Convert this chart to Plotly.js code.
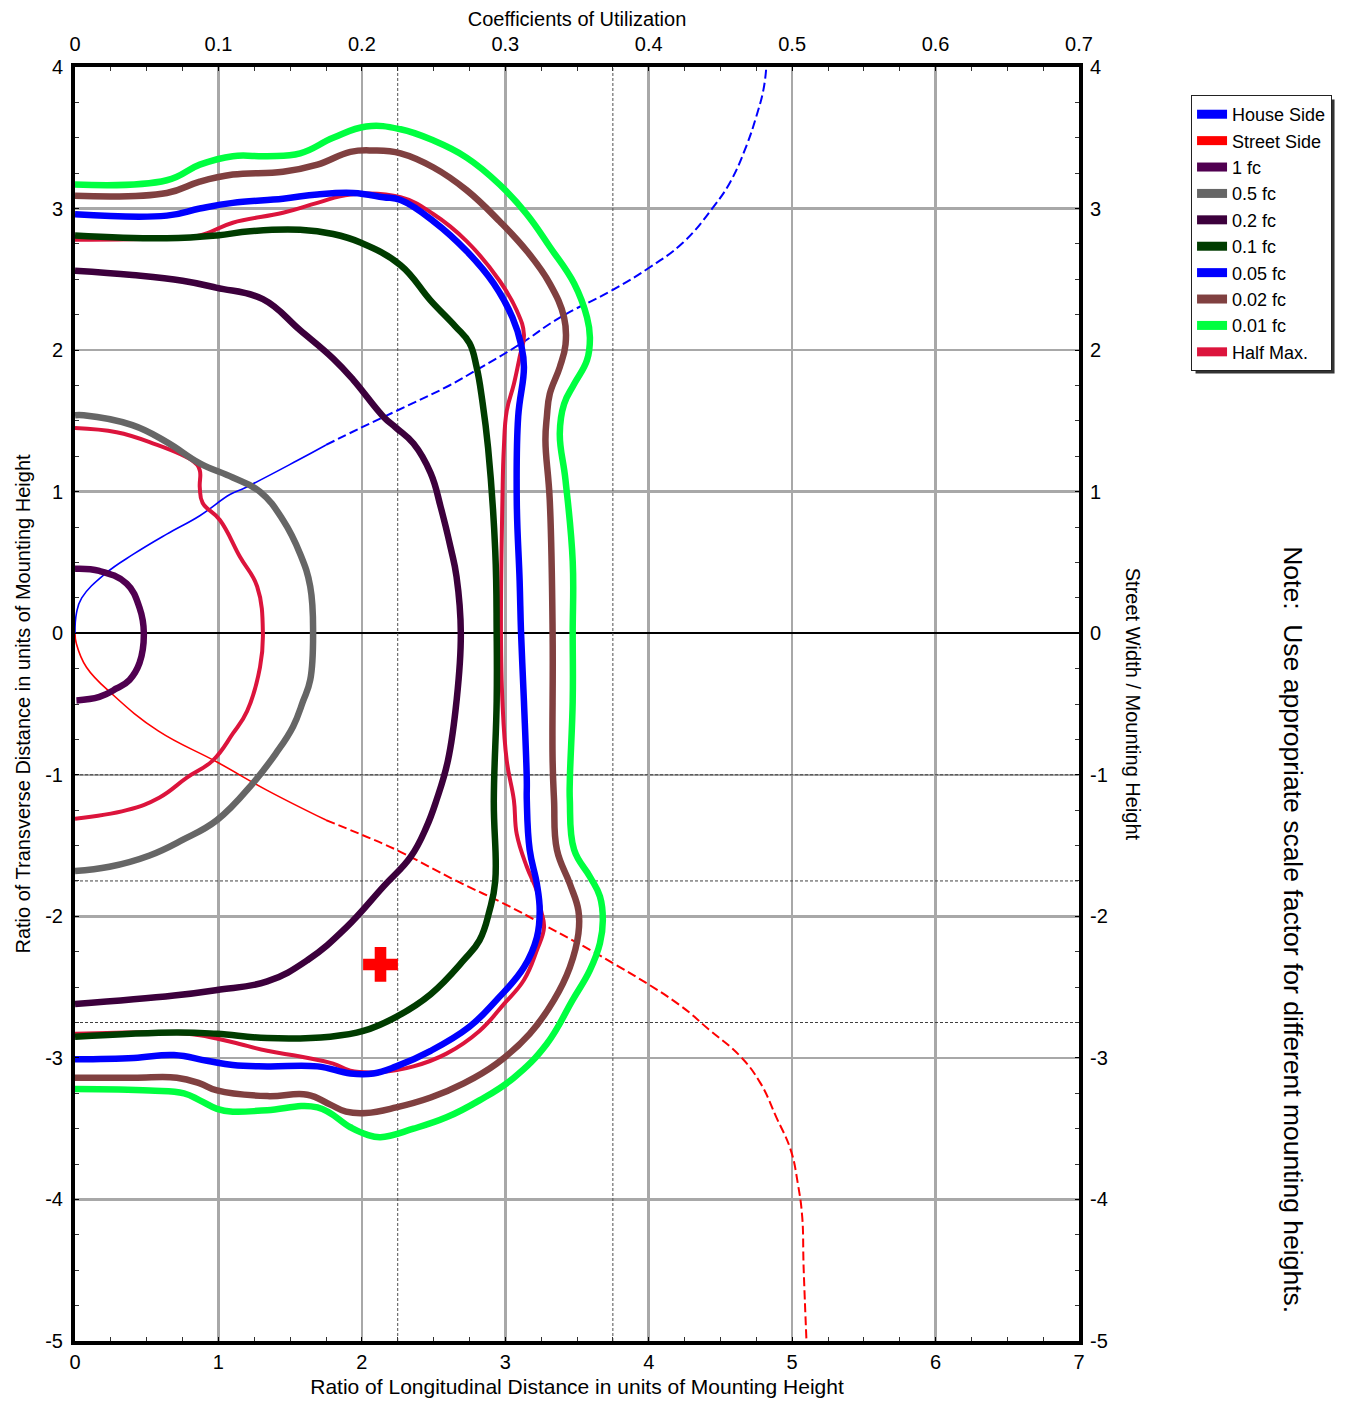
<!DOCTYPE html>
<html>
<head>
<meta charset="utf-8">
<script src="https://cdn.plot.ly/plotly-3.0.1.min.js"></script>
<style>
  html, body { margin: 0; padding: 0; background: #fff; }
  #chart { width: 1360px; height: 1401px; }
</style>
</head>
<body>
<div id="chart"></div>
<script>
// ---------- DATA (ratio units of mounting height) ----------
// Utilization curves
const houseSolidX  = [0, 0.01, 0.047, 0.21, 0.41, 0.64, 0.87, 1.08, 1.19, 1.55, 1.75];
const houseSolidY  = [0, 0.14, 0.25, 0.42, 0.56, 0.70, 0.83, 0.98, 1.03, 1.22, 1.33];
const houseDashX   = [1.75, 1.99, 2.24, 2.61, 2.80, 3.10, 3.38, 3.74, 4.00, 4.24, 4.45, 4.57, 4.68, 4.75, 4.80, 4.82];
const houseDashY   = [1.33, 1.45, 1.57, 1.75, 1.86, 2.04, 2.23, 2.42, 2.58, 2.76, 3.01, 3.19, 3.44, 3.65, 3.84, 4.00];
const streetSolidX = [0, 0.01, 0.08, 0.27, 0.58, 0.99, 1.34, 1.75];
const streetSolidY = [0, -0.075, -0.24, -0.44, -0.69, -0.91, -1.11, -1.32];
const streetDashX  = [1.75, 1.99, 2.24, 2.66, 2.99, 3.27, 3.75, 4.22, 4.42, 4.64, 4.78, 4.89, 4.99, 5.04, 5.07, 5.08, 5.10];
const streetDashY  = [-1.32, -1.42, -1.53, -1.75, -1.91, -2.06, -2.33, -2.63, -2.80, -2.99, -3.18, -3.42, -3.65, -3.89, -4.12, -4.48, -5.00];

// Iso-footcandle contours
const fc1X = [0, 0.17, 0.36, 0.45, 0.48, 0.45, 0.38, 0.29, 0.17, 0.01];
const fc1Y = [0.455, 0.44, 0.35, 0.18, 0, -0.21, -0.33, -0.39, -0.45, -0.475];

const fc05X = [0, 0.06, 0.40, 0.64, 0.87, 1.10, 1.29, 1.45, 1.57, 1.64, 1.66, 1.64, 1.59, 1.52, 1.40, 1.24, 0.99, 0.75, 0.52, 0.24, 0];
const fc05Y = [1.54, 1.54, 1.47, 1.35, 1.20, 1.10, 1.00, 0.80, 0.56, 0.33, 0, -0.33, -0.48, -0.66, -0.85, -1.06, -1.32, -1.46, -1.57, -1.65, -1.68];

const fc02X = [0, 0.40, 0.75, 0.99, 1.31, 1.57, 1.80, 1.94, 2.15, 2.24, 2.36, 2.48, 2.55, 2.62, 2.66, 2.69, 2.66, 2.60, 2.52, 2.45, 2.34, 2.15, 1.89, 1.62, 1.34, 0.99, 0.69, 0];
const fc02Y = [2.56, 2.53, 2.49, 2.44, 2.36, 2.14, 1.94, 1.79, 1.53, 1.45, 1.34, 1.13, 0.89, 0.60, 0.40, 0, -0.48, -0.90, -1.18, -1.37, -1.58, -1.79, -2.08, -2.31, -2.46, -2.52, -2.56, -2.62];

const fc01X = [0, 0.64, 0.99, 1.22, 1.57, 1.80, 1.99, 2.27, 2.48, 2.65, 2.75, 2.80, 2.84, 2.88, 2.93, 2.94, 2.94, 2.92, 2.93, 2.89, 2.82, 2.71, 2.48, 2.24, 2.01, 1.78, 1.34, 0.99, 0.71, 0];
const fc01Y = [2.81, 2.79, 2.81, 2.84, 2.85, 2.82, 2.76, 2.60, 2.35, 2.17, 2.05, 1.88, 1.64, 1.31, 0.58, 0, -0.48, -1.18, -1.75, -1.96, -2.17, -2.31, -2.55, -2.71, -2.81, -2.85, -2.86, -2.83, -2.82, -2.85];

const fc005X = [0, 0.64, 0.87, 1.10, 1.45, 1.69, 1.94, 2.15, 2.27, 2.50, 2.73, 2.92, 3.05, 3.11, 3.13, 3.09, 3.08, 3.10, 3.11, 3.13, 3.15, 3.15, 3.17, 3.22, 3.24, 3.22, 3.13, 2.94, 2.75, 2.48, 2.24, 2.08, 1.92, 1.69, 1.34, 1.10, 0.92, 0.69, 0.41, 0];
const fc005Y = [2.96, 2.95, 3.00, 3.04, 3.07, 3.10, 3.11, 3.08, 3.06, 2.91, 2.70, 2.47, 2.23, 2.04, 1.88, 1.53, 0.94, 0.37, 0, -0.48, -1.04, -1.18, -1.53, -1.77, -1.96, -2.15, -2.36, -2.59, -2.78, -2.95, -3.06, -3.11, -3.11, -3.06, -3.06, -3.05, -3.02, -2.98, -3.00, -3.01];

const fc002X = [0, 0.64, 0.87, 1.10, 1.45, 1.69, 1.92, 2.08, 2.27, 2.50, 2.73, 2.96, 3.15, 3.31, 3.41, 3.42, 3.38, 3.31, 3.29, 3.28, 3.31, 3.33, 3.33, 3.34, 3.36, 3.45, 3.51, 3.51, 3.45, 3.34, 3.17, 2.94, 2.71, 2.48, 2.24, 2.03, 1.89, 1.78, 1.62, 1.34, 0.99, 0.87, 0.71, 0.41, 0];
const fc002Y = [3.09, 3.11, 3.19, 3.24, 3.26, 3.31, 3.40, 3.41, 3.39, 3.29, 3.13, 2.91, 2.70, 2.47, 2.23, 2.04, 1.88, 1.69, 1.53, 1.36, 0.94, 0, -0.90, -1.18, -1.53, -1.77, -1.96, -2.12, -2.36, -2.59, -2.83, -3.04, -3.18, -3.28, -3.35, -3.39, -3.38, -3.33, -3.26, -3.27, -3.23, -3.18, -3.14, -3.14, -3.14];

const fc001X = [0, 0.64, 0.87, 1.10, 1.34, 1.57, 1.80, 2.03, 2.27, 2.50, 2.73, 2.96, 3.15, 3.31, 3.48, 3.57, 3.59, 3.57, 3.48, 3.41, 3.38, 3.42, 3.47, 3.47, 3.47, 3.45, 3.45, 3.48, 3.59, 3.66, 3.68, 3.66, 3.59, 3.47, 3.29, 3.06, 2.82, 2.59, 2.36, 2.13, 2.03, 1.92, 1.69, 1.34, 1.10, 0.99, 0.87, 0.76, 0.52, 0];
const fc001Y = [3.17, 3.20, 3.31, 3.37, 3.37, 3.39, 3.50, 3.58, 3.56, 3.48, 3.36, 3.17, 2.96, 2.73, 2.47, 2.23, 2.09, 1.93, 1.76, 1.62, 1.41, 1.08, 0.51, 0, -0.48, -1.04, -1.18, -1.53, -1.72, -1.86, -2.03, -2.19, -2.38, -2.59, -2.90, -3.14, -3.30, -3.42, -3.50, -3.56, -3.54, -3.49, -3.35, -3.37, -3.38, -3.36, -3.30, -3.25, -3.23, -3.22];

const halfMaxInnerX = [0, 0.29, 0.52, 0.83, 0.87, 0.87, 0.89, 1.01, 1.15, 1.27, 1.31, 1.29, 1.20, 1.10, 0.96, 0.78, 0.59, 0.36, 0];
const halfMaxInnerY = [1.45, 1.42, 1.35, 1.21, 1.15, 1.03, 0.92, 0.80, 0.54, 0.33, 0, -0.24, -0.55, -0.71, -0.90, -1.02, -1.16, -1.25, -1.31];

const halfMaxOuterX = [0, 0.64, 0.87, 1.10, 1.45, 1.69, 1.92, 2.27, 2.50, 2.73, 2.96, 3.08, 3.13, 3.10, 3.06, 3.01, 2.99, 2.98, 2.97, 2.98, 3.01, 3.06, 3.08, 3.15, 3.22, 3.25, 3.27, 3.22, 3.13, 2.99, 2.82, 2.59, 2.36, 2.13, 1.92, 1.80, 1.57, 1.34, 1.10, 0.87, 0.64, 0];
const halfMaxOuterY = [2.78, 2.79, 2.81, 2.90, 2.97, 3.04, 3.10, 3.08, 2.96, 2.77, 2.49, 2.28, 2.11, 1.95, 1.76, 1.57, 1.31, 0.94, 0, -0.48, -0.90, -1.18, -1.42, -1.65, -1.82, -1.96, -2.08, -2.24, -2.45, -2.62, -2.81, -2.97, -3.06, -3.10, -3.09, -3.04, -2.99, -2.95, -2.89, -2.84, -2.82, -2.83];

// Maximum candela point
const maxCdX = [2.13];
const maxCdY = [-2.34];

// Street-width reference lines
const refLinesX = [2.25, 3.75];
const refLinesY = [-1, -1.75, -2.75];

// Axis ranges and tick labels
const longRange = [0, 7];
const transRange = [-5, 4];
const cuRange = [0, 0.7];
const longTicks = [0, 1, 2, 3, 4, 5, 6, 7];
const transTicks = [-5, -4, -3, -2, -1, 0, 1, 2, 3, 4];
const transTickText = ['-5', '-4', '-3', '-2', '-1', '0', '1', '2', '3', '4'];
const cuTicks = [0, 0.1, 0.2, 0.3, 0.4, 0.5, 0.6, 0.7];
const cuTickText = ['0', '0.1', '0.2', '0.3', '0.4', '0.5', '0.6', '0.7'];

// Legend entries
const legendNames  = ['House Side', 'Street Side', '1 fc', '0.5 fc', '0.2 fc', '0.1 fc', '0.05 fc', '0.02 fc', '0.01 fc', 'Half Max.'];
const legendColors = ['#0000FF', '#FF0000', '#500050', '#666666', '#3C003C', '#003C00', '#0000FF', '#804040', '#00FF40', '#DC143C'];

// ---------- STYLE ----------
const FONT = 'Liberation Sans, Arial, Helvetica, sans-serif';
const C = {};
legendNames.forEach((n, i) => C[n] = legendColors[i]);
const SPL = {shape: 'spline', smoothing: 1.2};

function line(x, y, color, width, dash, smooth) {
  const ln = {color: color, width: width, dash: dash || 'solid'};
  if (smooth !== false) Object.assign(ln, SPL);
  return {x: x, y: y, type: 'scatter', mode: 'lines', showlegend: false, hoverinfo: 'skip', line: ln};
}

const traces = [];
// street-width reference lines (dashed, just above the grid)
refLinesX.forEach(v => traces.push(line([v, v], transRange, '#505050', 1, '3px,2px', false)));
refLinesY.forEach(v => traces.push(line(longRange, [v, v], '#404040', 1, '3px,2px', false)));
// utilization curves
traces.push(line(houseSolidX, houseSolidY, C['House Side'], 1.6));
traces.push(line(houseDashX, houseDashY, C['House Side'], 2, '9px,4px'));
traces.push(line(streetSolidX, streetSolidY, C['Street Side'], 1.6));
traces.push(line(streetDashX, streetDashY, C['Street Side'], 2, '9px,4px'));
// half max
traces.push(line(halfMaxInnerX, halfMaxInnerY, C['Half Max.'], 4));
traces.push(line(halfMaxOuterX, halfMaxOuterY, C['Half Max.'], 4));
// contours
traces.push(line(fc1X, fc1Y, C['1 fc'], 6.5));
traces.push(line(fc05X, fc05Y, C['0.5 fc'], 6.5));
traces.push(line(fc02X, fc02Y, C['0.2 fc'], 6.5));
traces.push(line(fc01X, fc01Y, C['0.1 fc'], 6.5));
traces.push(line(fc005X, fc005Y, C['0.05 fc'], 6.5));
traces.push(line(fc002X, fc002Y, C['0.02 fc'], 6.5));
traces.push(line(fc001X, fc001Y, C['0.01 fc'], 6.5));
// max candela marker
traces.push({x: maxCdX, y: maxCdY, type: 'scatter', mode: 'markers', showlegend: false, hoverinfo: 'skip',
             marker: {symbol: 'cross', size: 29, color: '#FF0000', line: {width: 0}}});
// legend proxies
legendNames.forEach((n, i) => {
  traces.push({x: [null], y: [null], type: 'scatter', mode: 'lines', name: n, showlegend: true,
               line: {color: legendColors[i], width: 9}});
});
// secondary axes carrier
traces.push({x: [null], y: [null], xaxis: 'x2', yaxis: 'y2', type: 'scatter', mode: 'lines', showlegend: false, hoverinfo: 'skip'});

const tickFont = {family: FONT, size: 20, color: '#000'};
const titleFont = {family: FONT, size: 20, color: '#000'};

const baseAxis = {
  showline: true, linecolor: '#000', linewidth: 4, mirror: 'allticks',
  showgrid: true, gridcolor: '#A8A8A8', gridwidth: 2.5,
  ticks: 'inside', ticklen: 4, tickcolor: '#000', tickwidth: 1,
  tickfont: tickFont, automargin: false, fixedrange: true,
  minor: {dtick: 0.25, ticks: 'inside', ticklen: 4, tickcolor: '#333', tickwidth: 1, showgrid: false}
};

const layout = {
  width: 1360, height: 1401,
  margin: {l: 75, r: 281, t: 67, b: 60, pad: 0},
  paper_bgcolor: '#fff', plot_bgcolor: '#fff',
  font: {family: FONT, color: '#000'},
  showlegend: true,
  xaxis: Object.assign({}, baseAxis, {
    range: longRange, tickvals: longTicks, zeroline: false,
    title: {text: 'Ratio of Longitudinal Distance in units of Mounting Height', font: {family: FONT, size: 21, color: '#000'}, standoff: 8}
  }),
  yaxis: Object.assign({}, baseAxis, {
    range: transRange, tickvals: transTicks, ticktext: transTickText, ticklabelstandoff: 4,
    zeroline: true, zerolinecolor: '#000', zerolinewidth: 2,
    title: {text: 'Ratio of Transverse Distance in units of Mounting Height', font: titleFont, standoff: 10}
  }),
  xaxis2: {
    overlaying: 'x', side: 'top', anchor: 'y', range: cuRange, tickvals: cuTicks, ticktext: cuTickText,
    ticklabelstandoff: 11,
    showgrid: false, showline: false, zeroline: false, ticks: '', tickfont: tickFont, automargin: false, fixedrange: true,
    title: {text: 'Coefficients of Utilization', font: titleFont, standoff: 1}
  },
  yaxis2: {
    overlaying: 'y', side: 'right', anchor: 'x', range: transRange, tickvals: transTicks, ticktext: transTickText,
    ticklabelstandoff: 10,
    showgrid: false, showline: false, zeroline: false, ticks: '', tickfont: tickFont, automargin: false, fixedrange: true
  },
  legend: {
    x: 1.1116, y: 0.978, xanchor: 'left', yanchor: 'top',
    bgcolor: '#fff', bordercolor: '#222', borderwidth: 1,
    font: {family: FONT, size: 18, color: '#000'},
    itemwidth: 30, tracegroupgap: 0
  },
  annotations: [
    {text: 'Street Width / Mounting Height', xref: 'paper', yref: 'paper', x: 1.054, y: 0.5,
     textangle: 90, showarrow: false, font: titleFont, xanchor: 'center', yanchor: 'middle'},
    {text: 'Note:  Use appropriate scale factor for different mounting heights.', xref: 'paper', yref: 'paper',
     x: 1.213, y: 0.3226, textangle: 90, showarrow: false, font: {family: FONT, size: 26.5, color: '#000'},
     xanchor: 'center', yanchor: 'middle'}
  ]
};

Plotly.newPlot('chart', traces, layout, {staticPlot: true, displayModeBar: false}).then(function (gd) {
  // legend drop shadow
  const bg = gd.querySelector('.legend .bg');
  if (!bg) return;
  const r = bg.getBoundingClientRect();
  const c = gd.getBoundingClientRect();
  const fs = gd._fullLayout._size;
  const toPx = (px) => (px - c.left - fs.l) / fs.w;
  const toPy = (py) => 1 - (py - c.top - fs.t) / fs.h;
  const shadow = {type: 'rect', xref: 'paper', yref: 'paper', layer: 'above',
    x0: toPx(r.left + 4), x1: toPx(r.right + 3), y0: toPy(r.top + 4), y1: toPy(r.bottom + 3),
    fillcolor: '#333', line: {width: 0}};
  Plotly.relayout(gd, {shapes: [shadow]});
});
</script>
</body>
</html>
